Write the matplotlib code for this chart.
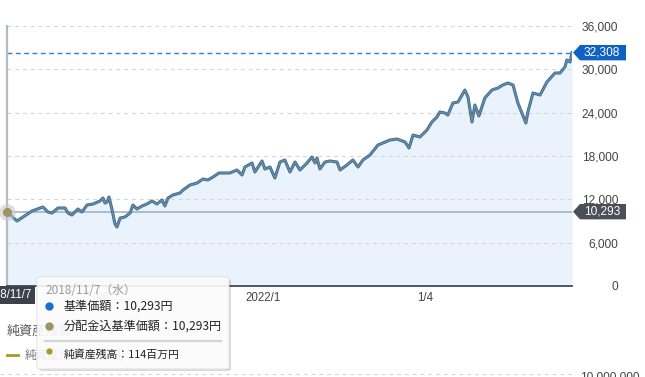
import matplotlib
matplotlib.use("Agg")
import matplotlib.pyplot as plt
import matplotlib.patches as mpatches
from matplotlib.lines import Line2D
import pandas as pd

# ---------------- data ----------------
dates = ["2018-11-07","2018-12-22","2019-02-28","2019-04-18","2019-05-11","2019-05-29","2019-06-25","2019-07-27",
         "2019-08-09","2019-08-27","2019-09-23","2019-10-11","2019-11-03","2019-11-30","2019-12-31","2020-01-14",
         "2020-01-23","2020-02-01","2020-02-10","2020-02-23","2020-03-08","2020-03-17","2020-03-31","2020-04-22",
         "2020-05-15","2020-05-28","2020-06-15","2020-07-08","2020-07-30","2020-08-22","2020-09-13","2020-10-06",
         "2020-10-19","2020-11-02","2020-11-24","2020-12-26","2021-01-09","2021-02-09","2021-03-13","2021-04-09",
         "2021-05-01","2021-05-24","2021-06-20","2021-08-08","2021-09-09","2021-10-02","2021-10-15","2021-11-16",
         "2021-11-29","2021-12-31","2022-01-13","2022-02-05","2022-02-27","2022-03-22","2022-04-13","2022-05-06",
         "2022-05-29","2022-06-20","2022-07-22","2022-08-13","2022-08-27","2022-09-05","2022-09-18","2022-10-11",
         "2022-11-02","2022-12-04","2022-12-18","2023-01-18","2023-02-14","2023-03-09","2023-03-31","2023-05-02",
         "2023-06-07","2023-06-29","2023-07-31","2023-09-01","2023-10-07","2023-10-25","2023-11-12","2023-12-13",
         "2024-01-14","2024-02-05","2024-02-28","2024-03-12","2024-04-04","2024-04-17","2024-05-10","2024-06-02",
         "2024-07-03","2024-07-17","2024-08-04","2024-08-17","2024-09-04","2024-10-01","2024-11-02","2024-11-29",
         "2024-12-21","2025-01-13","2025-02-05","2025-02-27","2025-04-04","2025-04-13","2025-05-06","2025-06-07",
         "2025-07-08","2025-08-13","2025-09-05","2025-09-27","2025-10-06","2025-10-20","2025-10-29"]

nav = [10293,9000,10385,10938,10246,10108,10800,10800,10108,9831,10662,10246,11215,11354,11769,12185,
       11492,11631,12323,10662,8585,8169,9415,9554,10108,11215,10662,11077,11354,11769,11354,11908,
       11077,12185,12600,12877,13292,13985,14261,14815,14677,15092,15646,15646,16062,15369,16477,17031,
       15785,17308,16200,16477,14954,17169,17446,15785,17169,16062,17031,17862,17031,17723,16200,17169,
       17308,17169,16062,16754,17446,16477,17446,18138,19523,19800,20215,20354,19938,19108,20908,20631,
       21600,22708,23400,24092,23954,23677,25338,25477,27138,26169,22708,25062,23538,26031,27138,27415,
       27831,28108,27831,25338,22569,24092,26723,26446,28246,29492,29492,30323,31292,31015,32308]

# reinvested NAV: no distributions, identical to NAV in the picture
nav_reinvested = list(nav)

y_ticks = [0, 6000, 12000, 18000, 24000, 30000, 36000]
y_tick_labels = ["0", "6,000", "12,000", "18,000", "24,000", "30,000", "36,000"]
x_tick_dates = ["2020-01-06", "2022-01-04", "2024-01-04"]
x_tick_labels = ["1/6", "2022/1", "1/4"]

cursor_date = "2018-11-07"
cursor_label = "2018/11/7"
cursor_value = 10293
last_value = 32308
x_start, x_end = "2018-11-07", "2025-10-29"

tooltip_title = "2018/11/7（水）"
tooltip_nav = "基準価額：10,293円"
tooltip_reinv = "分配金込基準価額：10,293円"
tooltip_assets = "純資産残高：114百万円"
section_title = "純資産残高"
legend_label = "純資産残高(百万円)"
lower_tick_label = "10,000,000"

# ---------------- figure ----------------
W, H, DPI = 645, 377, 100
LATIN = ["Liberation Sans", "Noto Sans CJK JP", "DejaVu Sans"]
CJK = ["Noto Sans CJK JP", "DejaVu Sans"]
plt.rcParams["font.family"] = LATIN

fig = plt.figure(figsize=(W / DPI, H / DPI), dpi=DPI)
fig.patch.set_facecolor("white")

def fx(px):
    return px / W

def fy(py):
    return 1 - py / H

ax = fig.add_axes([fx(7), fy(286), 565 / W, 260 / H])
ax.set_facecolor("none")

d = pd.to_datetime(dates)
ax.fill_between(d, nav, 0, color="#EAF2FB", lw=0, zorder=1)
for t in y_ticks[1:]:
    ax.axhline(t, color="#D6D6D6", lw=0.8, dashes=(3.5, 3.5), zorder=2)
ax.axhline(cursor_value, color="#9DAEBF", lw=1.1, zorder=3)
ax.axhline(last_value, color="#2C7FDA", lw=1.0, dashes=(3.5, 2.5), zorder=3)
ax.plot(d, nav, color="#1B6DD3", lw=2.2, zorder=4, solid_joinstyle="round")
ax.plot(d, nav_reinvested, color="#8E8A5E", lw=1.0, zorder=5, solid_joinstyle="round")

ax.axvline(pd.Timestamp(cursor_date), color="#B3BBC4", lw=1.6, zorder=6, clip_on=False)
ax.plot([pd.Timestamp(cursor_date)], [cursor_value], "o", ms=12, color="#C9C9C9", alpha=0.6,
        mec="none", zorder=7, clip_on=False)
ax.plot([pd.Timestamp(cursor_date)], [cursor_value], "o", ms=6.5, color="#9C9464",
        mec="none", zorder=8, clip_on=False)

ax.set_xlim(pd.Timestamp(x_start), pd.Timestamp(x_end))
ax.set_ylim(0, 36000)
for s in ["top", "left", "right"]:
    ax.spines[s].set_visible(False)
ax.spines["bottom"].set_color("#3E4C5C")
ax.spines["bottom"].set_linewidth(1.3)
ax.spines["bottom"].set_zorder(6)

ax.yaxis.tick_right()
ax.set_yticks(y_ticks, y_tick_labels)
ax.tick_params(axis="y", length=0, pad=33.2, labelsize=8.6, labelcolor="#444444")
for lab in ax.get_yticklabels():
    lab.set_horizontalalignment("right")
ax.set_xticks(pd.to_datetime(x_tick_dates), x_tick_labels)
ax.tick_params(axis="x", length=0, pad=4, labelsize=8.3, labelcolor="#444444")

# ---------------- price tags on right ----------------
def price_tag(value, color, text):
    ypx = ax.transData.transform((0, value))[1]
    yc = ypx / H
    hh = 7.7 / H
    verts = [(fx(573), yc), (fx(580), yc + hh), (fx(626), yc + hh), (fx(626), yc - hh), (fx(580), yc - hh)]
    fig.add_artist(mpatches.Polygon(verts, closed=True, facecolor=color, edgecolor="none",
                                    transform=fig.transFigure, zorder=12))
    fig.text(fx(602), yc, text, color="white", fontsize=8.6, ha="center", va="center",
             zorder=13, family=LATIN)

price_tag(last_value, "#1061C4", f"{last_value:,}")
price_tag(cursor_value, "#4A5058", f"{cursor_value:,}")

# cursor date label at bottom-left
fig.text(fx(7), fy(295), cursor_label, color="white", fontsize=8.3, ha="center", va="center",
         zorder=12, family=LATIN,
         bbox=dict(boxstyle="square,pad=0.25", facecolor="#3B424B", edgecolor="none"))

# ---------------- lower section (net assets) ----------------
fig.text(fx(7), fy(331), section_title, color="#555555", fontsize=9.4, ha="left", va="center", family=CJK)
fig.add_artist(Line2D([fx(7), fx(18)], [fy(355), fy(355)], color="#A89A20", lw=2, transform=fig.transFigure))
fig.text(fx(25), fy(355), legend_label, color="#777777", fontsize=8.4, ha="left", va="center", family=CJK)
fig.add_artist(Line2D([fx(0), fx(572)], [fy(374), fy(374)], color="#D6D6D6", lw=0.8, dashes=(3.5, 3.5),
                      transform=fig.transFigure))
fig.text(fx(640), fy(377), lower_tick_label, color="#444444", fontsize=8.6, ha="right", va="center",
         family=LATIN)

# ---------------- tooltip ----------------
tx0, ty0, tx1, ty1 = 37, 277, 229, 369
shadow = mpatches.FancyBboxPatch((fx(tx0 + 2), fy(ty1 + 2)), fx(tx1 - tx0), (ty1 - ty0) / H,
                                 boxstyle="round,pad=0,rounding_size=0.006", transform=fig.transFigure,
                                 facecolor="#000000", alpha=0.15, edgecolor="none", zorder=14)
fig.add_artist(shadow)
tip = mpatches.FancyBboxPatch((fx(tx0), fy(ty1)), fx(tx1 - tx0), (ty1 - ty0) / H,
                              boxstyle="round,pad=0,rounding_size=0.006", transform=fig.transFigure,
                              facecolor="white", alpha=0.9, edgecolor="#E2E2E2", lw=0.8, zorder=15)
fig.add_artist(tip)

fig.text(fx(45), fy(290), tooltip_title, color="#9A9A9A", fontsize=8.5, ha="left", va="center",
         family=CJK, zorder=16)
fig.add_artist(Line2D([fx(49)], [fy(306)], marker="o", ms=6, color="#1B6DD3", mec="none",
                      transform=fig.transFigure, zorder=16))
fig.text(fx(64), fy(306), tooltip_nav, color="#222222", fontsize=8.7, ha="left", va="center",
         family=CJK, zorder=16)
fig.add_artist(Line2D([fx(49)], [fy(326)], marker="o", ms=6, color="#9C9464", mec="none",
                      transform=fig.transFigure, zorder=16))
fig.text(fx(64), fy(326), tooltip_reinv, color="#222222", fontsize=8.7, ha="left", va="center",
         family=CJK, zorder=16)
fig.add_artist(Line2D([fx(45), fx(221)], [fy(341), fy(341)], color="#D4D4D4", lw=1.6,
                      transform=fig.transFigure, zorder=16))
fig.add_artist(Line2D([fx(49)], [fy(351)], marker="o", ms=4.5, color="#A89A20", mec="none",
                      transform=fig.transFigure, zorder=16))
fig.text(fx(64), fy(354), tooltip_assets, color="#222222", fontsize=7.8, ha="left", va="center",
         family=CJK, zorder=16)

fig.savefig("out.png", dpi=DPI)
